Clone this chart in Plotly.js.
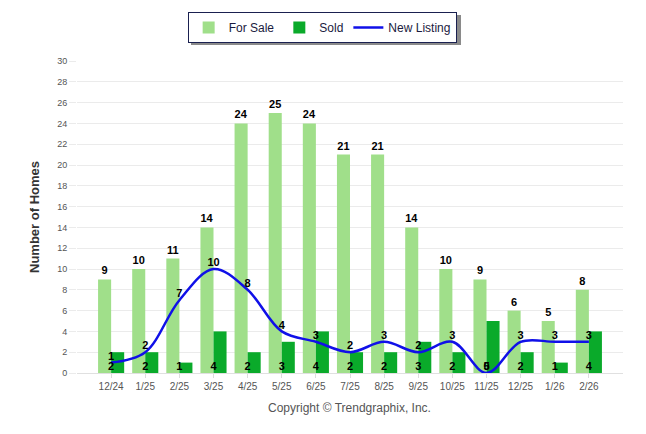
<!DOCTYPE html>
<html>
<head>
<meta charset="utf-8">
<script src="https://cdn.plot.ly/plotly-3.0.1.min.js"></script>
<style>html,body{margin:0;padding:0;background:#fff;}#chart{width:646px;height:434px;}</style>
</head>
<body>
<div id="chart"></div>
<script>
const months = ["12/24","1/25","2/25","3/25","4/25","5/25","6/25","7/25","8/25","9/25","10/25","11/25","12/25","1/26","2/26"];
const forSale = [9,10,11,14,24,25,24,21,21,14,10,9,6,5,8];
const sold = [2,2,1,4,2,3,4,2,2,3,2,5,2,1,4];
const newListing = [1,2,7,10,8,4,3,2,3,2,3,0,3,3,3];

const labelFont = {family: "Arial, Liberation Sans, sans-serif", size: 11, color: "#000", weight: "bold"};

const traces = [
  {type: "bar", name: "For Sale", x: months, y: forSale, marker: {color: "#a0df8a"},
   text: forSale.map(String), textposition: "outside", textfont: labelFont, constraintext: "none", cliponaxis: false, hoverinfo: "skip"},
  {type: "bar", name: "Sold", x: months, y: sold, marker: {color: "#0aaa2a"}, hoverinfo: "skip"},
  {type: "scatter", mode: "lines", name: "New Listing", x: months, y: newListing,
   line: {color: "#1010e8", width: 2.5, shape: "spline", smoothing: 1}, hoverinfo: "skip"},
  {type: "scatter", mode: "text", showlegend: false, x: months, y: newListing, text: newListing.map(String),
   textposition: "top center", textfont: labelFont, cliponaxis: false, hoverinfo: "skip"},
  {type: "scatter", mode: "text", showlegend: false, x: months, y: months.map(() => 0), text: sold.map(String),
   textposition: "top center", textfont: labelFont, cliponaxis: false, hoverinfo: "skip"}
];

const L = 77, T = 61, W = 546, H = 312;
const px2x = p => (p - L) / W;
const px2y = p => 1 - (p - T) / H;

const layout = {
  width: 646, height: 434,
  margin: {l: L, r: 646 - L - W, t: T, b: 434 - T - H},
  paper_bgcolor: "#fff", plot_bgcolor: "#fff",
  font: {family: "Arial, Liberation Sans, sans-serif", color: "#555"},
  barmode: "group", bargap: 0.235, bargroupgap: 0,
  showlegend: true,
  legend: {orientation: "h", x: 0.449, xanchor: "center", y: 1.157, yanchor: "top",
    bgcolor: "#fff", bordercolor: "#1a2050", borderwidth: 1,
    font: {size: 12, color: "#1a1a40"}, traceorder: "normal"},
  xaxis: {type: "category", range: [-1, 15], showgrid: false, zeroline: false,
    showline: true, linecolor: "#e0e0e0", ticks: "outside", ticklen: 4, tickcolor: "#dcdcdc",
    tickfont: {size: 10, color: "#555"}, fixedrange: true},
  yaxis: {range: [0, 30], dtick: 2, showgrid: true, gridcolor: "#ebebeb", zeroline: false,
    ticks: "outside", ticklen: 7, tickcolor: "#ebebeb",
    tickfont: {size: 9, color: "#555"}, fixedrange: true,
    title: {text: "Number of Homes", font: {size: 13, color: "#333", weight: "bold"}, standoff: 14}},
  shapes: [
    {type: "rect", xref: "paper", yref: "paper", x0: px2x(191), x1: px2x(461),
     y0: px2y(45), y1: px2y(15), fillcolor: "#8a8a8a", line: {width: 0}, layer: "below"}
  ],
  annotations: [
    {text: "Copyright © Trendgraphix, Inc.", xref: "paper", yref: "paper", x: px2x(349), y: px2y(408),
     xanchor: "center", yanchor: "middle", showarrow: false, font: {size: 12, color: "#555"}}
  ]
};

Plotly.newPlot("chart", traces, layout, {displayModeBar: false, staticPlot: true});
</script>
</body>
</html>
